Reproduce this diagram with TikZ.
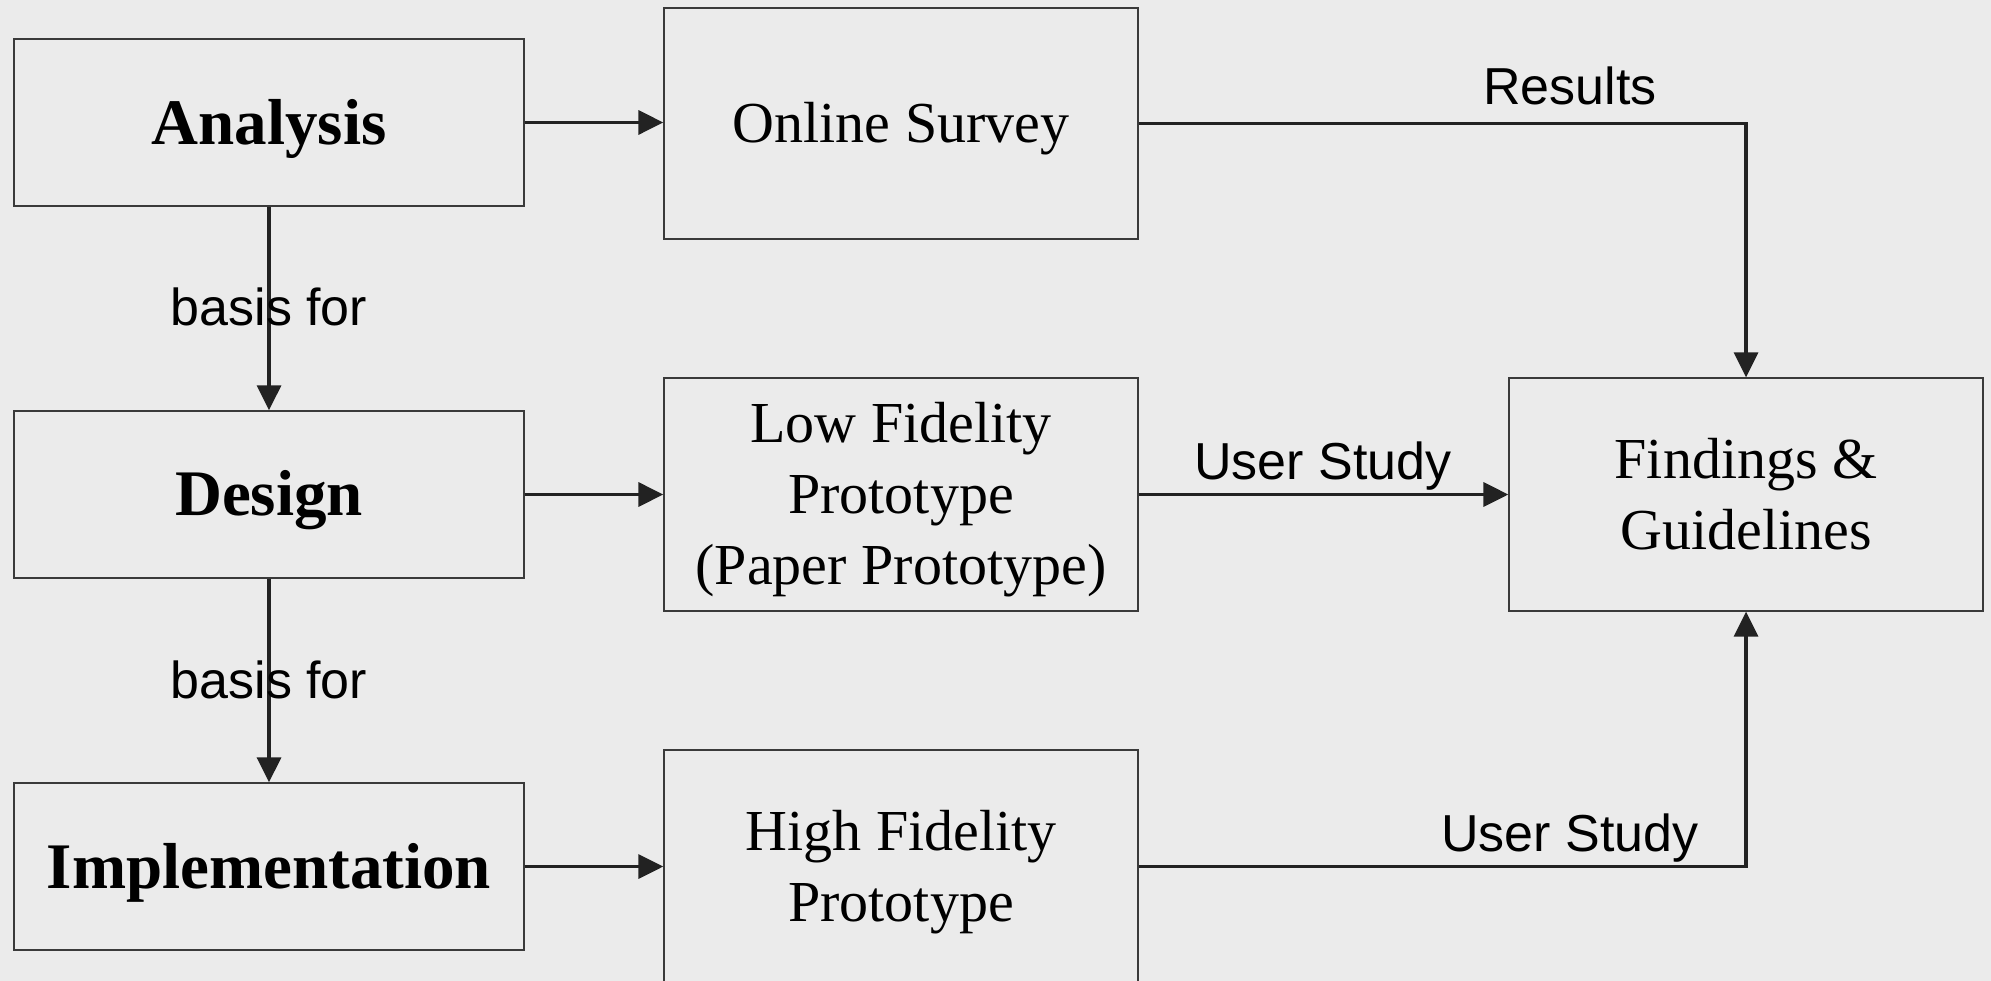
\documentclass[tikz,border=0pt]{standalone}
\usepackage{fontspec}
\setmainfont{Liberation Serif}
\newfontfamily\labelfont{Liberation Sans}
\usetikzlibrary{arrows.meta}
\definecolor{bg}{HTML}{EBEBEB}
\definecolor{ln}{HTML}{222222}
\definecolor{bd}{HTML}{3A3A3A}
\begin{document}
\begin{tikzpicture}[x=1pt,y=-1pt,
  box/.style={draw=bd, line width=1.3pt, fill=bg, inner sep=0pt},
  leftbox/.style={box, minimum width=510pt, minimum height=167pt},
  midbox/.style={box, minimum width=474pt, minimum height=233pt},
  lefttxt/.style={inner sep=0pt, align=center, font=\fontsize{65}{79}\selectfont\bfseries},
  midtxt/.style={inner sep=0pt, align=center, font=\fontsize{58}{71}\selectfont},
  arr/.style={draw=ln, line width=3.3pt, -{Triangle[length=25pt,width=24pt]}},
  lbl/.style={inner sep=0pt, text height=37pt, text depth=11pt, font=\labelfont\fontsize{52}{60}\selectfont, text=black}]
\fill[bg] (0,0) rectangle (1991,981);
\useasboundingbox (0,0) rectangle (1991,981);
\node[leftbox] (ana) at (269,122.5) {};
\node[leftbox] (des) at (269,494.5) {};
\node[leftbox] (imp) at (269,866.5) {};
\node[midbox, minimum height=231pt] (onl) at (901,123.5) {};
\node[midbox] (low) at (901,494.5) {};
\node[midbox] (high) at (901,866.5) {};
\node[midbox] (fin) at (1746,494.5) {};
\node[lefttxt] (anaT) at ([yshift=-6pt]ana.center) {Analysis};
\node[lefttxt] (desT) at ([yshift=-6pt]des.center) {Design};
\node[lefttxt] (impT) at ([yshift=-6pt]imp.center) {Implementation};
\node[midtxt] (onlT) at ([yshift=-5pt]onl.center) {Online Survey};
\node[midtxt] (lowT) at ([yshift=-5pt]low.center) {Low Fidelity\\Prototype\\(Paper Prototype)};
\node[midtxt] (highT) at ([yshift=-6pt]high.center) {High Fidelity\\Prototype};
\node[midtxt] (finT) at (fin.center) {Findings \&\\Guidelines};
\draw[arr] (ana.east) -- (ana.east -| onl.west);
\draw[arr] (des.east) -- (low.west);
\draw[arr] (imp.east) -- (high.west);
\draw[arr] (ana.south) -- (des.north);
\draw[arr] (des.south) -- (imp.north);
\draw[arr] (onl.east) -| (fin.north);
\draw[arr] (low.east) -- (fin.west);
\draw[arr] (high.east) -| (fin.south);
\node[lbl] (l1) at (269,313) {basis for};
\node[lbl] (l2) at (269,685) {basis for};
\node[lbl] (l3) at (1570,92) {Results};
\node[lbl] (l4) at (1323,466) {User Study};
\node[lbl] (l5) at (1570,838) {User Study};
\end{tikzpicture}
\end{document}
